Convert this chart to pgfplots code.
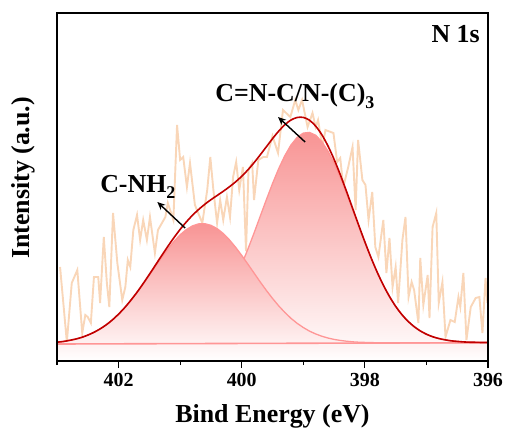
\documentclass[border=0pt]{standalone}
\usepackage{fontspec}
\setmainfont{Liberation Serif}
\usepackage{pgfplots}
\usepackage{pgfplotstable}
\pgfplotsset{compat=1.18}
\usetikzlibrary{arrows.meta}

\definecolor{rawline}{RGB}{249,214,184}
\definecolor{peaktop}{RGB}{248,148,148}
\definecolor{peakline}{RGB}{255,150,150}
\definecolor{envline}{RGB}{192,0,0}

% measured N 1s spectrum (binding energy / counts, arbitrary units)
\pgfplotstableread{
x y
402.95 94
402.84 19
402.76 78
402.67 91
402.59 28
402.54 46
402.50 44
402.45 38
402.40 84
402.33 84
402.30 58
402.24 124
402.19 78
402.15 54
402.09 148
402.02 98
401.94 61
401.89 74
401.85 101
401.81 94
401.76 131
401.70 146
401.65 121
401.60 141
401.54 121
401.49 144
401.41 108
401.36 131
401.24 144
401.20 158
401.11 141
401.05 236
401.00 201
400.95 204
400.89 174
400.84 198
400.76 156
400.64 138
400.56 171
400.51 204
400.46 171
400.40 138
400.35 161
400.30 141
400.24 164
400.19 144
400.14 184
400.09 199
400.04 171
399.98 194
399.93 110
399.89 191
399.83 198
399.80 161
399.73 201
399.65 204
399.59 204
399.50 225
399.41 208
399.33 251
399.21 244
399.13 261
399.08 251
399.02 261
398.93 234
398.85 248
398.80 234
398.76 241
398.69 214
398.64 231
398.51 228
398.45 199
398.40 203
398.35 174
398.27 194
398.20 214
398.15 151
398.11 221
398.04 181
397.99 176
397.94 141
397.88 169
397.83 114
397.78 104
397.70 141
397.65 88
397.60 123
397.55 74
397.50 94
397.46 58
397.39 121
397.34 144
397.29 64
397.24 79
397.20 71
397.13 38
397.10 103
397.05 56
396.98 86
396.95 43
396.90 134
396.84 148
396.80 58
396.74 79
396.69 24
396.61 41
396.54 39
396.48 64
396.45 54
396.40 88
396.35 21
396.28 54
396.20 63
396.14 64
396.09 28
396.04 83
396.01 58
}\rawdata

% fitted components (C-NH2, C=N-C/N-(C)3) on the background, and their sum
\pgfplotstableread{
x p1 p2 env
403.0 18.8 17.0 18.8
402.9 19.5 17.0 19.5
402.8 20.6 17.0 20.6
402.7 21.9 17.1 21.9
402.6 23.6 17.1 23.6
402.5 25.9 17.1 25.9
402.4 28.6 17.1 28.7
402.3 32.1 17.2 32.1
402.2 36.2 17.2 36.2
402.1 41.1 17.2 41.1
402.0 46.8 17.3 46.9
401.9 53.3 17.3 53.4
401.8 60.6 17.4 60.8
401.7 68.5 17.5 68.8
401.6 77.0 17.7 77.5
401.5 85.9 18.0 86.6
401.4 94.8 18.4 96.0
401.3 103.6 19.0 105.4
401.2 112.0 19.9 114.6
401.1 119.6 21.1 123.4
401.0 126.2 22.8 131.6
400.9 131.4 25.0 139.0
400.8 135.1 28.0 145.7
400.7 137.1 31.9 151.5
400.6 137.3 36.8 156.7
400.5 135.7 43.0 161.3
400.4 132.4 50.6 165.5
400.3 127.5 59.8 169.7
400.2 121.2 70.5 174.2
400.1 113.8 82.9 179.1
400.0 105.6 96.7 184.7
399.9 96.9 111.8 191.1
399.8 88.0 127.9 198.3
399.7 79.1 144.6 206.1
399.6 70.6 161.3 214.2
399.5 62.6 177.4 222.3
399.4 55.2 192.3 229.8
399.3 48.6 205.3 236.2
399.2 42.7 216.0 241.0
399.1 37.7 223.6 243.5
399.0 33.5 227.9 243.6
398.9 29.9 228.6 240.8
398.8 27.1 225.8 235.0
398.7 24.8 219.5 226.4
398.6 23.0 210.0 215.2
398.5 21.6 198.0 201.7
398.4 20.6 183.8 186.5
398.3 19.8 168.1 170.0
398.2 19.2 151.6 152.9
398.1 18.8 134.9 135.8
398.0 18.6 118.5 119.2
397.9 18.4 103.0 103.4
397.8 18.3 88.7 88.9
397.7 18.2 75.7 75.9
397.6 18.1 64.4 64.5
397.5 18.1 54.7 54.7
397.4 18.1 46.5 46.5
397.3 18.1 39.8 39.8
397.2 18.1 34.4 34.4
397.1 18.1 30.1 30.1
397.0 18.1 26.8 26.8
396.9 18.2 24.3 24.3
396.8 18.2 22.5 22.5
396.7 18.2 21.2 21.2
396.6 18.2 20.2 20.2
396.5 18.2 19.6 19.6
396.4 18.3 19.1 19.1
396.3 18.3 18.8 18.8
396.2 18.3 18.7 18.7
396.1 18.3 18.5 18.5
396.0 18.3 18.5 18.5
}\fitdata

\begin{document}
\begin{tikzpicture}
\begin{axis}[
  scale only axis,
  width=431bp, height=348bp,
  axis on top,
  x dir=reverse,
  xmin=396, xmax=403, ymin=0, ymax=348,
  xtick={396,398,400,402},
  minor xtick={397,399,401,403},
  ytick=\empty,
  xtick pos=bottom,
  tick align=outside,
  major tick length=7bp,
  minor tick length=4bp,
  every tick/.style={black, line width=1.2bp},
  axis line style={line width=1.7bp},
  /pgf/number format/assume math mode=true,
  xticklabel style={font=\fontsize{20}{24}\selectfont\bfseries, yshift=-2bp},
  xlabel={Bind Energy (eV)},
  ylabel={Intensity (a.u.)},
  label style={font=\fontsize{26}{30}\selectfont\bfseries},
  xlabel style={at={(axis description cs:0.5,-0.178)}, anchor=base},
  ylabel style={at={(axis description cs:-0.063,0.526)}, anchor=base},
]
  % raw spectrum
  \addplot[rawline, line width=1.9bp] table[x=x, y=y] {\rawdata};
  % fitted components: shaded areas, then their outlines
  \addplot[draw=none, top color=peaktop, bottom color=white]
    table[x=x, y=p2] {\fitdata} \closedcycle;
  \addplot[peakline, line width=1.3bp] table[x=x, y=p2] {\fitdata};
  \addplot[draw=none, top color=peaktop, bottom color=white]
    table[x=x, y=p1] {\fitdata} \closedcycle;
  \addplot[peakline, line width=1.3bp] table[x=x, y=p1] {\fitdata};
  % background
  \addplot[peakline, line width=1.6bp] coordinates {(403,17) (396,18.33)};
  % envelope
  \addplot[envline, line width=1.6bp, smooth] table[x=x, y=env] {\fitdata};

  \draw[-{Stealth[length=8bp, width=7bp]}, line width=1.4bp]
    (axis cs:400.92,133) -- (axis cs:401.37,159);
  \draw[-{Stealth[length=8bp, width=7bp]}, line width=1.4bp]
    (axis cs:398.97,219) -- (axis cs:399.41,244);

  \node[anchor=base west, inner sep=0, font=\fontsize{26}{30}\selectfont\bfseries]
    at (axis cs:402.30,169) {C-NH\raisebox{-6bp}{\fontsize{18}{20}\selectfont 2}};
  \node[anchor=base west, inner sep=0, font=\fontsize{26}{30}\selectfont\bfseries]
    at (axis cs:400.43,259) {C=N-C/N-(C)\raisebox{-7bp}{\fontsize{18}{20}\selectfont 3}};
  \node[anchor=base east, inner sep=0, font=\fontsize{26}{30}\selectfont\bfseries]
    at (axis description cs:0.9814,0.9138) {N 1s};
\end{axis}
% plot frame
\draw[line width=1.7bp] (current axis.south west) rectangle (current axis.north east);
\pgfresetboundingbox
\path ([shift={(-57bp,-73bp)}]current axis.south west)
  rectangle ([shift={(18bp,13bp)}]current axis.north east);
\end{tikzpicture}
\end{document}
